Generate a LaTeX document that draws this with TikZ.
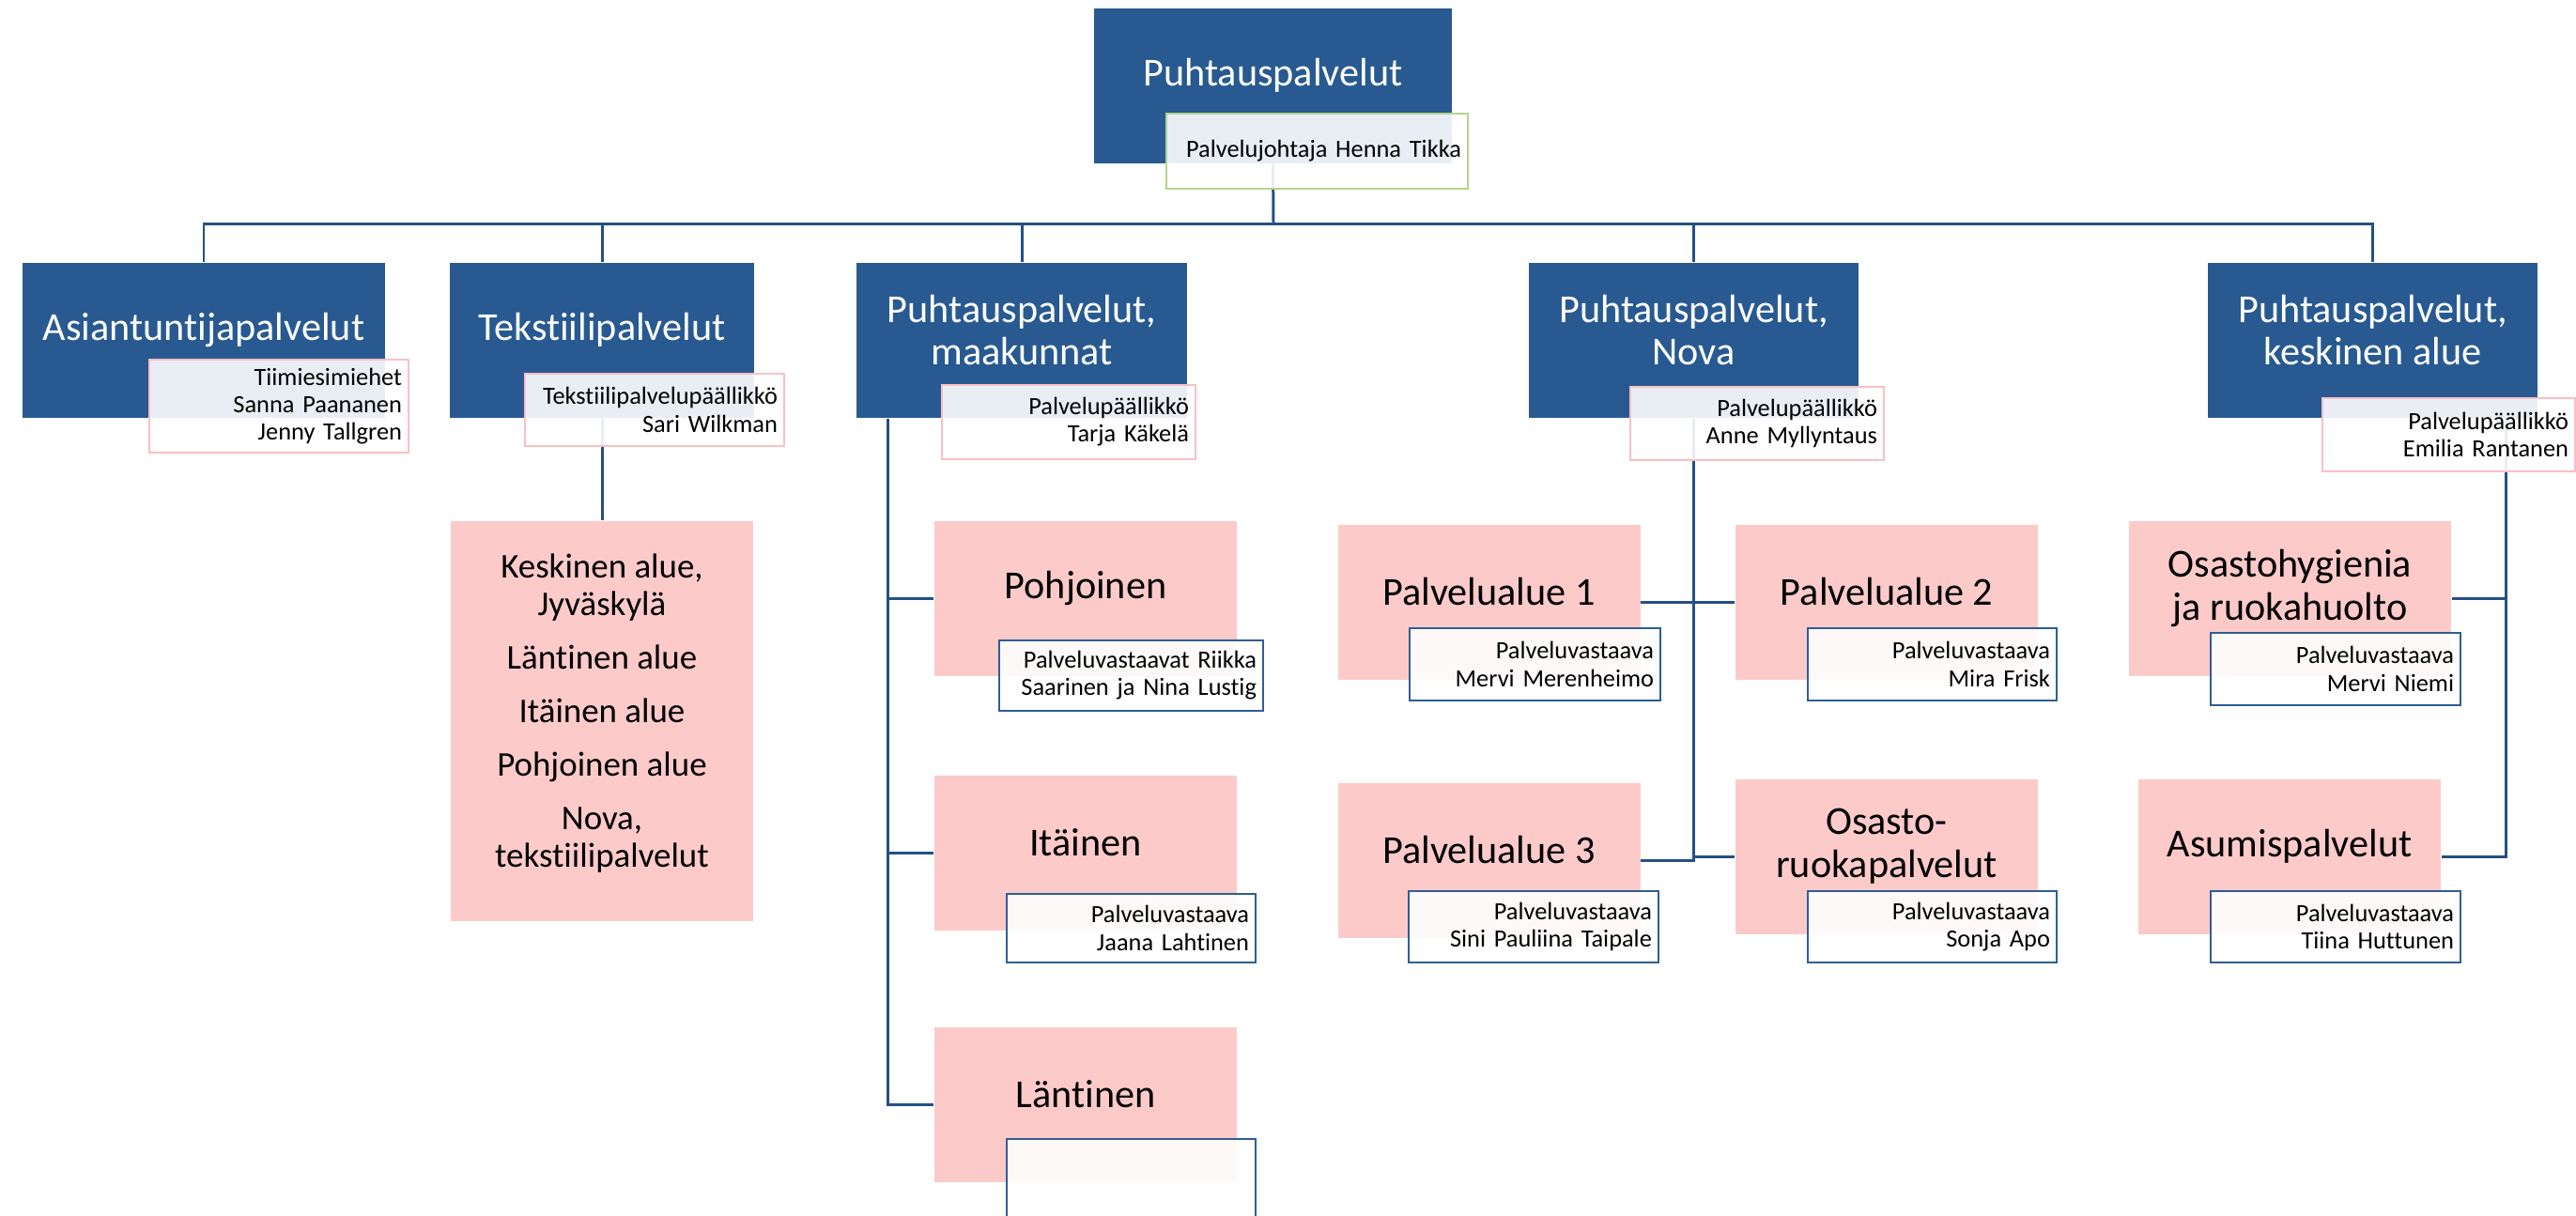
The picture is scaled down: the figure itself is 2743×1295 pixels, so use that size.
\documentclass[tikz,border=0pt]{standalone}
\usepackage{fontspec}
\setmainfont{Carlito}[Ligatures=NoCommon]
\usetikzlibrary{calc}
\definecolor{boxblue}{RGB}{40,90,145}
\definecolor{boxpink}{RGB}{253,202,202}
\definecolor{linkblue}{RGB}{36,80,132}
\definecolor{subpink}{RGB}{250,192,198}
\definecolor{subgreen}{RGB}{180,212,140}
\definecolor{subblue}{RGB}{46,94,150}
\pgfdeclarelayer{bg}
\pgfsetlayers{bg,main}
\newlength{\whotw}
\tikzset{
  wd/.style={minimum width=#1*0.01cm},
  ht/.style={minimum height=#1*0.01cm},
  tw/.code={\pgfmathsetlength{\whotw}{#1*0.01cm-0.14cm}\pgfkeysalso{text width=\the\whotw}},
  head/.style={rectangle, fill=boxblue, inner sep=0pt},
  area/.style={rectangle, fill=boxpink, inner sep=0pt},
  headtext/.style={text=white, align=center, inner sep=0pt, font=\fontsize{12}{13}\selectfont},
  areatext/.style={text=black, align=center, inner sep=0pt, font=\fontsize{12}{13}\selectfont},
  who/.style={rectangle, fill=white, fill opacity=0.9, text opacity=1,
    inner xsep=0.07cm, inner ysep=0pt, align=right, font=\fontsize{7.5}{8.3}\selectfont},
  whopink/.style={draw=subpink, line width=0.6pt},
  whogreen/.style={draw=subgreen, line width=0.6pt},
  whoblue/.style={draw=subblue, line width=0.75pt},
  link/.style={draw=linkblue, line width=0.85pt}
}

\begin{document}
\begin{tikzpicture}[x=0.01cm, y=-0.01cm]
  \useasboundingbox (0,0) rectangle (2743,1295);

  % ylin taso
  \node[head, wd=381, ht=165] (top) at (1355.5,91.5) {};
  \node[headtext] (top-t) at ([yshift=0.11cm]top.center) {Puhtauspalvelut};
  \node[who, tw=321, ht=80, whogreen] (top-w) at (1402.5,161) {Palvelujohtaja Henna Tikka};
  \coordinate (bus) at (1356,239);

  % yksikot
  \foreach \n/\x/\w/\txt in {asi/217/386/Asiantuntijapalvelut,
      tek/641/324/Tekstiilipalvelut,
      maa/1088/352/{Puhtauspalvelut,\\maakunnat},
      nov/1803.5/351/{Puhtauspalvelut,\\Nova},
      kes/2526.5/351/{Puhtauspalvelut,\\keskinen alue}}{
    \node[head, wd=\w, ht=165] (\n) at (\x,362.5) {};
    \node[headtext] (\n-t) at ([yshift=0.11cm]\n.center) {\txt};
  }
  \node[who, tw=276, ht=99, whopink] (asi-w) at (297,432.5) {Tiimiesimiehet\\Sanna Paananen\\Jenny Tallgren};
  \node[who, tw=276, ht=77, whopink] (tek-w) at (697,436.5) {Tekstiilipalvelupäällikkö\\Sari Wilkman};
  \node[who, tw=270, ht=79, whopink] (maa-w) at (1138,449.5) {Palvelupäällikkö\\Tarja Käkelä};
  \node[who, tw=270, ht=78, whopink] (nov-w) at (1871,451) {Palvelupäällikkö\\Anne Myllyntaus};
  \node[who, tw=269, ht=78, whopink] (kes-w) at (2607.5,463) {Palvelupäällikkö\\Emilia Rantanen};

  % tekstiilipalvelut
  \node[area, wd=322, ht=426] (tekc) at (641,768) {};
  \node[areatext, font=\fontsize{10.5}{11.4}\selectfont] (tekc-t) at ([yshift=0.08cm]tekc.center)
    {Keskinen alue,\\Jyväskylä\\[4.8pt]Läntinen alue\\[4.8pt]Itäinen alue\\[4.8pt]Pohjoinen alue\\[4.8pt]Nova,\\tekstiilipalvelut};

  % alueet
  \foreach \n/\x/\y/\txt in {pohj/1156/637.5/Pohjoinen, ita/1156/908.5/Itäinen, lan/1156/1176.5/Läntinen,
      pa1/1585.5/641.5/Palvelualue 1, pa2/2009/641.5/Palvelualue 2,
      pa3/1585.5/916.5/Palvelualue 3, osr/2009/912.5/{Osasto-\\ruokapalvelut},
      asu/2438/912.5/Asumispalvelut}{
    \node[area, wd=322, ht=165] (\n) at (\x,\y) {};
    \node[areatext] (\n-t) at ([yshift=0.11cm]\n.center) {\txt};
  }
  \node[area, wd=343, ht=165] (ohy) at (2438.5,637.5) {};
  \node[areatext] (ohy-t) at ([yshift=0.11cm]ohy.center) {Osastohygienia\\ja ruokahuolto};

  \node[who, tw=281, ht=75, whoblue] (pohj-w) at (1204.5,719.5) {Palveluvastaavat Riikka\\Saarinen ja Nina Lustig};
  \node[who, tw=265, ht=73, whoblue] (ita-w) at (1204.5,988.5) {Palveluvastaava\\Jaana Lahtinen};
  \node[who, tw=265, ht=85, whoblue] (lan-w) at (1204.5,1255.5) {};
  \node[who, tw=267, ht=77, whoblue] (pa1-w) at (1634.5,707.5) {Palveluvastaava\\Mervi Merenheimo};
  \node[who, tw=265, ht=77, whoblue] (pa2-w) at (2057.5,707.5) {Palveluvastaava\\Mira Frisk};
  \node[who, tw=266, ht=76, whoblue] (pa3-w) at (1633,987) {Palveluvastaava\\Sini Pauliina Taipale};
  \node[who, tw=265, ht=76, whoblue] (osr-w) at (2057.5,987) {Palveluvastaava\\Sonja Apo};
  \node[who, tw=266, ht=77, whoblue] (ohy-w) at (2487,712.5) {Palveluvastaava\\Mervi Niemi};
  \node[who, tw=266, ht=76, whoblue] (asu-w) at (2487,987) {Palveluvastaava\\Tiina Huttunen};

  % yhteydet
  \begin{pgfonlayer}{bg}
    \draw[link] (top.south) -- (bus);
    \foreach \n in {asi,tek,maa,nov,kes}
      \draw[link] (bus) -| (\n.north);
    \draw[link] (tek.south) -- (tekc.north);
    \foreach \n in {pohj,ita,lan}
      \draw[link] ([xshift=0.34cm]maa.south west) |- (\n.west);
    \foreach \n in {pa1,pa3}
      \draw[link] (nov.south) |- (\n.east);
    \foreach \n in {pa2,osr}
      \draw[link] (nov.south) |- (\n.west);
    \foreach \n in {ohy,asu}
      \draw[link] ([xshift=-0.34cm]kes.south east) |- (\n.east);
  \end{pgfonlayer}
\end{tikzpicture}
\end{document}
